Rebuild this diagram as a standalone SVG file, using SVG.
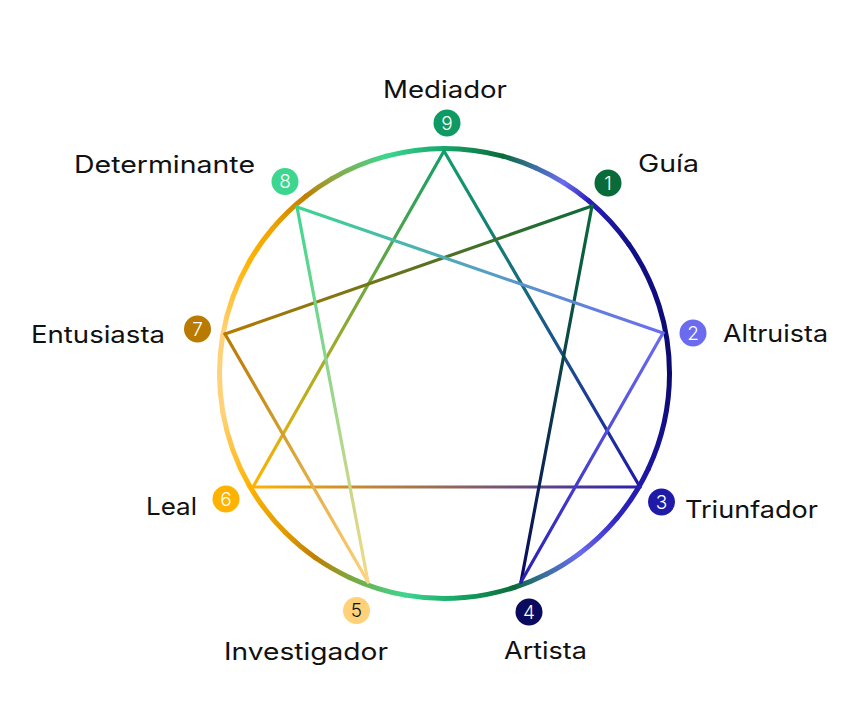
<svg xmlns="http://www.w3.org/2000/svg" width="862" height="718" viewBox="0 0 862 718">
<style>
.lbl{font-family:Inter,"Open Sans","Liberation Sans",sans-serif;font-size:24px;fill:#111111}
.num{font-family:Inter,"Open Sans","Liberation Sans",sans-serif;font-size:19px;font-weight:300;fill:#ffffff;text-anchor:middle}
.arc{fill:none;stroke-width:5;stroke-linecap:round}
.ln{fill:none;stroke-width:3.2;stroke-linecap:round}
</style>
<defs>
<linearGradient id="a1" gradientUnits="userSpaceOnUse" x1="444.5" y1="148.5" x2="502.7" y2="156.2"><stop offset="0" stop-color="#17a56c"/><stop offset="1" stop-color="#0a6b3a"/></linearGradient>
<linearGradient id="a2" gradientUnits="userSpaceOnUse" x1="502.7" y1="156.2" x2="536" y2="168"><stop offset="0" stop-color="#0a6b3a"/><stop offset="1" stop-color="#3d6fa6"/></linearGradient>
<linearGradient id="a3" gradientUnits="userSpaceOnUse" x1="536" y1="168" x2="563.7" y2="182.7"><stop offset="0" stop-color="#3d6fa6"/><stop offset="1" stop-color="#6b6bf0"/></linearGradient>
<linearGradient id="a4" gradientUnits="userSpaceOnUse" x1="563.7" y1="182.7" x2="589.1" y2="201.1"><stop offset="0" stop-color="#6b6bf0"/><stop offset="1" stop-color="#2a1fb8"/></linearGradient>
<linearGradient id="a5" gradientUnits="userSpaceOnUse" x1="589.1" y1="201.1" x2="628.8" y2="244.4"><stop offset="0" stop-color="#2a1fb8"/><stop offset="1" stop-color="#12108a"/></linearGradient>
<linearGradient id="a6" gradientUnits="userSpaceOnUse" x1="628.8" y1="244.4" x2="669.5" y2="373.5"><stop offset="0" stop-color="#12108a"/><stop offset="1" stop-color="#0a0a6e"/></linearGradient>
<linearGradient id="a7" gradientUnits="userSpaceOnUse" x1="669.5" y1="373.5" x2="648.4" y2="468.6"><stop offset="0" stop-color="#0a0a6e"/><stop offset="1" stop-color="#1a159e"/></linearGradient>
<linearGradient id="a8" gradientUnits="userSpaceOnUse" x1="648.4" y1="468.6" x2="616.9" y2="518.1"><stop offset="0" stop-color="#1a159e"/><stop offset="1" stop-color="#2f25c2"/></linearGradient>
<linearGradient id="a9" gradientUnits="userSpaceOnUse" x1="616.9" y1="518.1" x2="579.9" y2="553.2"><stop offset="0" stop-color="#2f25c2"/><stop offset="1" stop-color="#6b6bf0"/></linearGradient>
<linearGradient id="a10" gradientUnits="userSpaceOnUse" x1="579.9" y1="553.2" x2="546.7" y2="574"><stop offset="0" stop-color="#6b6bf0"/><stop offset="1" stop-color="#3d6fa6"/></linearGradient>
<linearGradient id="a11" gradientUnits="userSpaceOnUse" x1="546.7" y1="574" x2="514" y2="587.5"><stop offset="0" stop-color="#3d6fa6"/><stop offset="1" stop-color="#0a6b3a"/></linearGradient>
<linearGradient id="a12" gradientUnits="userSpaceOnUse" x1="514" y1="587.5" x2="464.1" y2="597.6"><stop offset="0" stop-color="#0a6b3a"/><stop offset="1" stop-color="#12a060"/></linearGradient>
<linearGradient id="a13" gradientUnits="userSpaceOnUse" x1="464.1" y1="597.6" x2="405.4" y2="595.1"><stop offset="0" stop-color="#12a060"/><stop offset="1" stop-color="#3dd68f"/></linearGradient>
<linearGradient id="a14" gradientUnits="userSpaceOnUse" x1="405.4" y1="595.1" x2="349.4" y2="577.4"><stop offset="0" stop-color="#3dd68f"/><stop offset="1" stop-color="#7fa63c"/></linearGradient>
<linearGradient id="a15" gradientUnits="userSpaceOnUse" x1="349.4" y1="577.4" x2="315.4" y2="557.8"><stop offset="0" stop-color="#7fa63c"/><stop offset="1" stop-color="#c08000"/></linearGradient>
<linearGradient id="a16" gradientUnits="userSpaceOnUse" x1="315.4" y1="557.8" x2="285.4" y2="532.6"><stop offset="0" stop-color="#c08000"/><stop offset="1" stop-color="#e09a00"/></linearGradient>
<linearGradient id="a17" gradientUnits="userSpaceOnUse" x1="285.4" y1="532.6" x2="249.6" y2="486"><stop offset="0" stop-color="#e09a00"/><stop offset="1" stop-color="#ffb300"/></linearGradient>
<linearGradient id="a18" gradientUnits="userSpaceOnUse" x1="249.6" y1="486" x2="222.9" y2="412.6"><stop offset="0" stop-color="#ffb300"/><stop offset="1" stop-color="#ffd27a"/></linearGradient>
<linearGradient id="a19" gradientUnits="userSpaceOnUse" x1="222.9" y1="334.4" x2="249.6" y2="261"><stop offset="0" stop-color="#ffd27a"/><stop offset="1" stop-color="#ffb300"/></linearGradient>
<linearGradient id="a20" gradientUnits="userSpaceOnUse" x1="249.6" y1="261" x2="272.2" y2="228.9"><stop offset="0" stop-color="#ffb300"/><stop offset="1" stop-color="#f0a400"/></linearGradient>
<linearGradient id="a21" gradientUnits="userSpaceOnUse" x1="272.2" y1="228.9" x2="306" y2="196.2"><stop offset="0" stop-color="#f0a400"/><stop offset="1" stop-color="#c08000"/></linearGradient>
<linearGradient id="a22" gradientUnits="userSpaceOnUse" x1="306" y1="196.2" x2="332" y2="178.6"><stop offset="0" stop-color="#c08000"/><stop offset="1" stop-color="#8fa640"/></linearGradient>
<linearGradient id="a23" gradientUnits="userSpaceOnUse" x1="332" y1="178.6" x2="386.3" y2="156.2"><stop offset="0" stop-color="#8fa640"/><stop offset="1" stop-color="#3dd68f"/></linearGradient>
<linearGradient id="a24" gradientUnits="userSpaceOnUse" x1="386.3" y1="156.2" x2="444.5" y2="148.5"><stop offset="0" stop-color="#3dd68f"/><stop offset="1" stop-color="#17a56c"/></linearGradient>

<linearGradient id="l93" gradientUnits="userSpaceOnUse" x1="444" y1="151" x2="640" y2="487"><stop offset="0" stop-color="#11a066"/><stop offset="1" stop-color="#1f1aa8"/></linearGradient>
<linearGradient id="l96" gradientUnits="userSpaceOnUse" x1="444" y1="151" x2="253" y2="487"><stop offset="0" stop-color="#11a066"/><stop offset="1" stop-color="#ffb300"/></linearGradient>
<linearGradient id="l63" gradientUnits="userSpaceOnUse" x1="253" y1="487" x2="640" y2="487"><stop offset="0" stop-color="#ffb300"/><stop offset="1" stop-color="#2a1fb0"/></linearGradient>
<linearGradient id="l14" gradientUnits="userSpaceOnUse" x1="592" y1="206" x2="521" y2="582"><stop offset="0" stop-color="#0a6b3a"/><stop offset="1" stop-color="#0a0a5e"/></linearGradient>
<linearGradient id="l17" gradientUnits="userSpaceOnUse" x1="592" y1="206" x2="225" y2="334"><stop offset="0" stop-color="#0a6b3a"/><stop offset="1" stop-color="#b87a00"/></linearGradient>
<linearGradient id="l75" gradientUnits="userSpaceOnUse" x1="225" y1="334" x2="368" y2="582"><stop offset="0" stop-color="#b87a00"/><stop offset="1" stop-color="#ffd27a"/></linearGradient>
<linearGradient id="l58" gradientUnits="userSpaceOnUse" x1="368" y1="582" x2="297" y2="207"><stop offset="0" stop-color="#f8d888"/><stop offset="1" stop-color="#3dd68f"/></linearGradient>
<linearGradient id="l82" gradientUnits="userSpaceOnUse" x1="297" y1="207" x2="663" y2="333"><stop offset="0" stop-color="#3dd68f"/><stop offset="1" stop-color="#6b6bf0"/></linearGradient>
<linearGradient id="l24" gradientUnits="userSpaceOnUse" x1="663" y1="333" x2="521" y2="582"><stop offset="0" stop-color="#6b6bf0"/><stop offset="1" stop-color="#2a1fb8"/></linearGradient>
</defs>

<g id="ring">
<path class="arc" stroke="url(#a1)" d="M444.5 148.5 A225 225 0 0 1 502.7 156.2"/>
<path class="arc" stroke="url(#a2)" d="M502.7 156.2 A225 225 0 0 1 536 168"/>
<path class="arc" stroke="url(#a3)" d="M536 168 A225 225 0 0 1 563.7 182.7"/>
<path class="arc" stroke="url(#a4)" d="M563.7 182.7 A225 225 0 0 1 589.1 201.1"/>
<path class="arc" stroke="url(#a5)" d="M589.1 201.1 A225 225 0 0 1 628.8 244.4"/>
<path class="arc" stroke="url(#a6)" d="M628.8 244.4 A225 225 0 0 1 669.5 373.5"/>
<path class="arc" stroke="url(#a7)" d="M669.5 373.5 A225 225 0 0 1 648.4 468.6"/>
<path class="arc" stroke="url(#a8)" d="M648.4 468.6 A225 225 0 0 1 616.9 518.1"/>
<path class="arc" stroke="url(#a9)" d="M616.9 518.1 A225 225 0 0 1 579.9 553.2"/>
<path class="arc" stroke="url(#a10)" d="M579.9 553.2 A225 225 0 0 1 546.7 574"/>
<path class="arc" stroke="url(#a11)" d="M546.7 574 A225 225 0 0 1 514 587.5"/>
<path class="arc" stroke="url(#a12)" d="M514 587.5 A225 225 0 0 1 464.1 597.6"/>
<path class="arc" stroke="url(#a13)" d="M464.1 597.6 A225 225 0 0 1 405.4 595.1"/>
<path class="arc" stroke="url(#a14)" d="M405.4 595.1 A225 225 0 0 1 349.4 577.4"/>
<path class="arc" stroke="url(#a15)" d="M349.4 577.4 A225 225 0 0 1 315.4 557.8"/>
<path class="arc" stroke="url(#a16)" d="M315.4 557.8 A225 225 0 0 1 285.4 532.6"/>
<path class="arc" stroke="url(#a17)" d="M285.4 532.6 A225 225 0 0 1 249.6 486"/>
<path class="arc" stroke="url(#a18)" d="M249.6 486 A225 225 0 0 1 222.9 412.6"/>
<path class="arc" stroke="#ffd27a" d="M222.9 412.6 A225 225 0 0 1 222.9 334.4"/>
<path class="arc" stroke="url(#a19)" d="M222.9 334.4 A225 225 0 0 1 249.6 261"/>
<path class="arc" stroke="url(#a20)" d="M249.6 261 A225 225 0 0 1 272.2 228.9"/>
<path class="arc" stroke="url(#a21)" d="M272.2 228.9 A225 225 0 0 1 306 196.2"/>
<path class="arc" stroke="url(#a22)" d="M306 196.2 A225 225 0 0 1 332 178.6"/>
<path class="arc" stroke="url(#a23)" d="M332 178.6 A225 225 0 0 1 386.3 156.2"/>
<path class="arc" stroke="url(#a24)" d="M386.3 156.2 A225 225 0 0 1 444.5 148.5"/>
</g>

<g id="connectors">
<line class="ln" stroke="url(#l93)" x1="444" y1="151" x2="640" y2="487"/>
<line class="ln" stroke="url(#l96)" x1="444" y1="151" x2="253" y2="487"/>
<line class="ln" stroke="url(#l63)" x1="253" y1="487" x2="640" y2="487"/>
<line class="ln" stroke="url(#l14)" x1="592" y1="206" x2="521" y2="582"/>
<line class="ln" stroke="url(#l17)" x1="592" y1="206" x2="225" y2="334"/>
<line class="ln" stroke="url(#l75)" x1="225" y1="334" x2="368" y2="582"/>
<line class="ln" stroke="url(#l58)" x1="368" y1="582" x2="297" y2="207"/>
<line class="ln" stroke="url(#l82)" x1="297" y1="207" x2="663" y2="333"/>
<line class="ln" stroke="url(#l24)" x1="663" y1="333" x2="521" y2="582"/>
</g>

<g id="node9"><circle cx="447" cy="123" r="13.5" fill="#0f9a64"/><text class="num" x="447" y="129.5">9</text><text class="lbl" x="383" y="98" textLength="124" lengthAdjust="spacingAndGlyphs">Mediador</text></g>
<g id="node1"><circle cx="608" cy="183" r="13.5" fill="#0a6b3a"/><text class="num" x="608" y="189.5">1</text><text class="lbl" x="638" y="172" textLength="61" lengthAdjust="spacingAndGlyphs">Guía</text></g>
<g id="node2"><circle cx="693" cy="333" r="13.5" fill="#6b6bf0"/><text class="num" x="693" y="339.5">2</text><text class="lbl" x="723" y="342" textLength="105" lengthAdjust="spacingAndGlyphs">Altruista</text></g>
<g id="node3"><circle cx="661.5" cy="502" r="13.5" fill="#1f1aa8"/><text class="num" x="661.5" y="508.5">3</text><text class="lbl" x="685" y="518" textLength="133" lengthAdjust="spacingAndGlyphs">Triunfador</text></g>
<g id="node4"><circle cx="529" cy="612" r="13.5" fill="#0a0a5e"/><text class="num" x="529" y="618.5">4</text><text class="lbl" x="504" y="659" textLength="83" lengthAdjust="spacingAndGlyphs">Artista</text></g>
<g id="node5"><circle cx="356.5" cy="610.5" r="13.5" fill="#ffd27a"/><text class="num" x="356.5" y="617" style="fill:#111111">5</text><text class="lbl" x="224" y="660" textLength="164" lengthAdjust="spacingAndGlyphs">Investigador</text></g>
<g id="node6"><circle cx="226" cy="499" r="13.5" fill="#ffb300"/><text class="num" x="226" y="505.5">6</text><text class="lbl" x="146" y="515" textLength="51" lengthAdjust="spacingAndGlyphs">Leal</text></g>
<g id="node7"><circle cx="197.5" cy="329" r="13.5" fill="#b87a00"/><text class="num" x="197.5" y="335.5">7</text><text class="lbl" x="31" y="343" textLength="134" lengthAdjust="spacingAndGlyphs">Entusiasta</text></g>
<g id="node8"><circle cx="285" cy="181.5" r="13.5" fill="#3dd68f"/><text class="num" x="285" y="188">8</text><text class="lbl" x="74" y="173" textLength="181" lengthAdjust="spacingAndGlyphs">Determinante</text></g>
</svg>
